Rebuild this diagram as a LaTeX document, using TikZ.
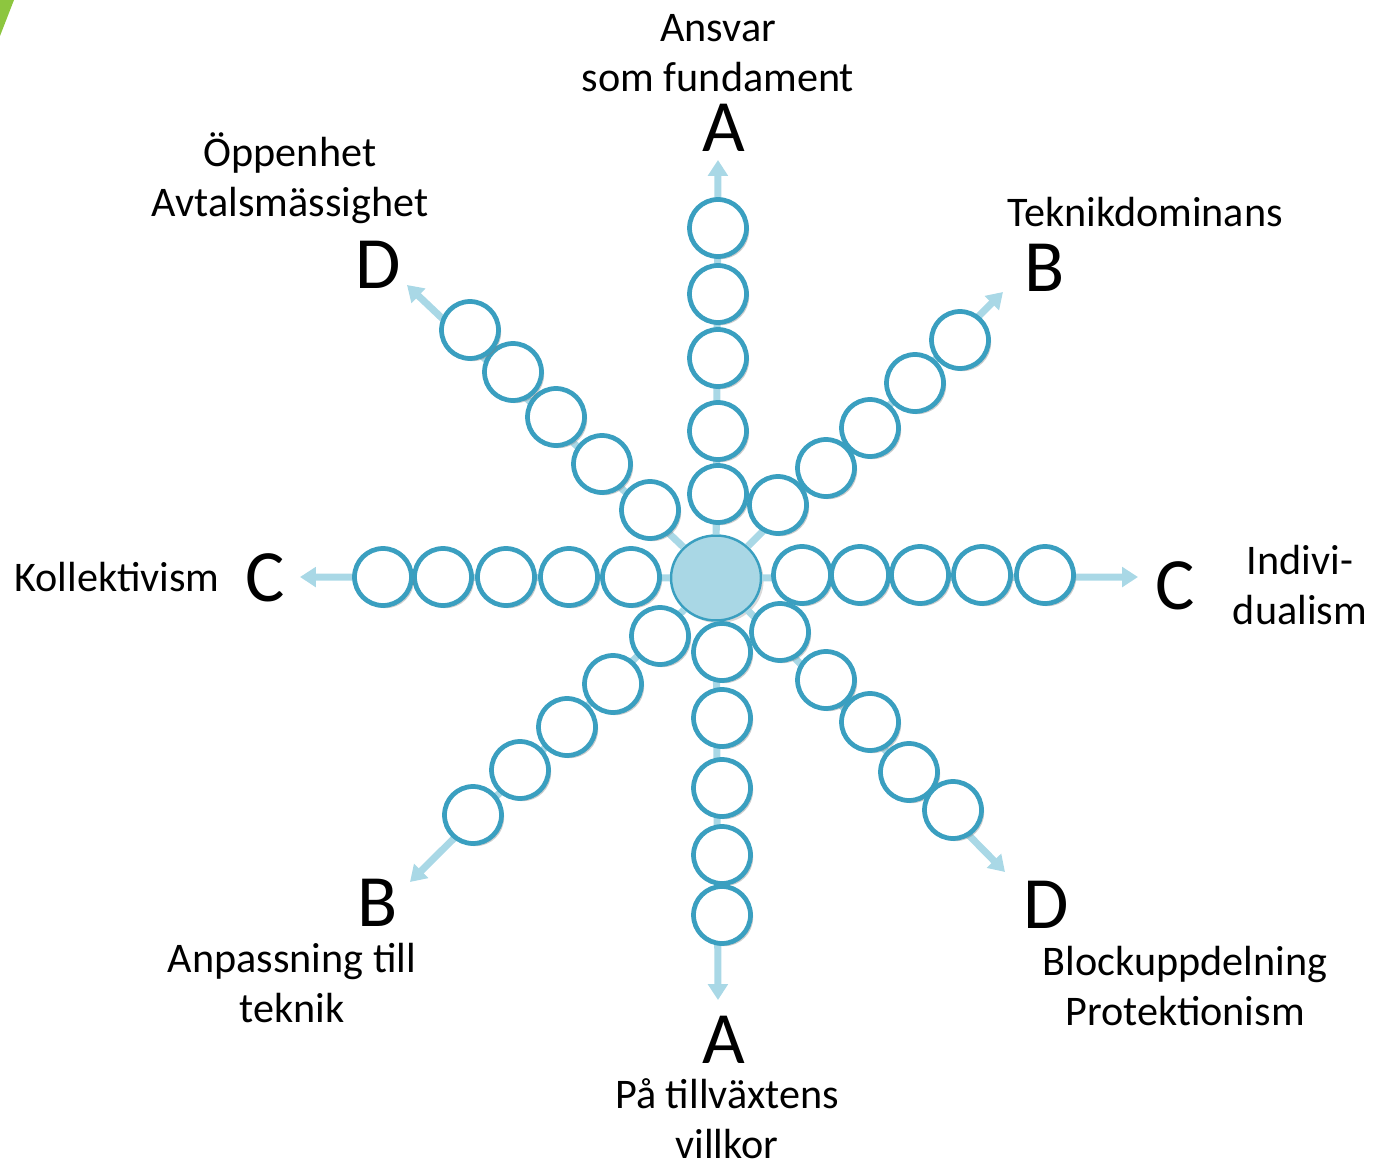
\documentclass[tikz,border=0pt]{standalone}
\usepackage{fontspec}
\setmainfont{Carlito}
\usetikzlibrary{arrows.meta,shapes.geometric,shadows}
\definecolor{Ring}{HTML}{3A9FC0}
\definecolor{Spoke}{HTML}{A9D8E6}
\definecolor{Hub}{HTML}{A9D7E5}
\definecolor{Leaf}{HTML}{8DC63F}

\begin{document}
\begin{tikzpicture}[
    x=0.02cm,y=-0.02cm,
    ring/.style={circle,draw=Ring,fill=white,line width=2.7pt,minimum size=1.14cm,inner sep=0pt,drop shadow={shadow xshift=1.5pt,shadow yshift=-1.5pt,opacity=0.4}},
    hub/.style={ellipse,draw=Ring,fill=Hub,line width=1.4pt,minimum width=1.8cm,minimum height=1.7cm,drop shadow={shadow xshift=1.5pt,shadow yshift=-1.5pt,opacity=0.3}},
    spoke/.style={-{Triangle[length=9pt,width=11pt]},line width=4pt,color=Spoke},
    label/.style={font=\fontsize{24}{28.3}\selectfont,align=center,inner sep=0pt},
    letter/.style={font=\fontsize{42}{46}\selectfont,inner sep=0pt}
  ]
    \useasboundingbox (0,0) rectangle (1376,1165);
    \fill[Leaf] (0,0) -- (14,0) -- (0,36) -- cycle;
    % hub and spokes
    \node[hub] (hub) at (716,578) {};
    \coordinate (uptip) at (718,160);
    \coordinate (dntip) at (718,1000);
    \coordinate (lftip) at (300,577);
    \coordinate (rttip) at (1138,577);
    \coordinate (urtip) at (1003,292);
    \coordinate (ultip) at (407,285);
    \coordinate (dltip) at (410,882);
    \coordinate (drtip) at (1005,872);
    \draw[spoke] (hub)--(uptip);
    \draw[spoke] (hub)--(dntip);
    \draw[spoke] (hub)--(lftip);
    \draw[spoke] (hub)--(rttip);
    \draw[spoke] (hub)--(urtip);
    \draw[spoke] (hub)--(ultip);
    \draw[spoke] (hub)--(dltip);
    \draw[spoke] (hub)--(drtip);
    % rings on each spoke
    \foreach \n/\y in {1/494,2/431,3/358,4/294,5/228} \node[ring] (up\n) at (718,\y) {};
    \foreach \n/\y in {1/652,2/718,3/788,4/855,5/915} \node[ring] (dn\n) at (722,\y) {};
    \foreach \n/\x in {1/631,2/569,3/506,4/443,5/383} \node[ring] (lf\n) at (\x,577) {};
    \foreach \n/\x in {1/802,2/860,3/920,4/982,5/1045} \node[ring] (rt\n) at (\x,575) {};
    \foreach \n/\x/\y in {1/778/505,2/826/468,3/870/428,4/915/383,5/960/340} \node[ring] (ur\n) at (\x,\y) {};
    \foreach \n/\x/\y in {1/650/510,2/602/464,3/556/417,4/513/372,5/470/330} \node[ring] (ul\n) at (\x,\y) {};
    \foreach \n/\x/\y in {1/660/636,2/613/684,3/567/727,4/520/770,5/473/815} \node[ring] (dl\n) at (\x,\y) {};
    \foreach \n/\x/\y in {1/780/632,2/826/680,3/870/722,4/909/772,5/953/810} \node[ring] (dr\n) at (\x,\y) {};
    % letters and texts
    \node[letter] (upA) at (724,128) {A};
    \node[label] (uptext) at (718,53) {Ansvar\\som fundament};
    \node[letter] (dnA) at (724,1040) {A};
    \node[label] (dntext) at (727,1119) {På tillväxtens\\villkor};
    \node[letter] (lfC) at (265,578) {C};
    \node[label] (lftext) at (117,577) {Kollektivism};
    \node[letter] (rtC) at (1175,586) {C};
    \node[label] (rttext) at (1300,585) {Indivi-\\dualism};
    \node[letter] (urB) at (1045,268) {B};
    \node[label] (urtext) at (1145,212) {Teknikdominans};
    \node[letter] (ulD) at (378,265) {D};
    \node[label] (ultext) at (290,178) {Öppenhet\\Avtalsmässighet};
    \node[letter] (dlB) at (378,903) {B};
    \node[label] (dltext) at (292,983) {Anpassning till\\teknik};
    \node[letter] (drD) at (1046,905) {D};
    \node[label] (drtext) at (1185,986) {Blockuppdelning\\Protektionism};
  \end{tikzpicture}
\end{document}
